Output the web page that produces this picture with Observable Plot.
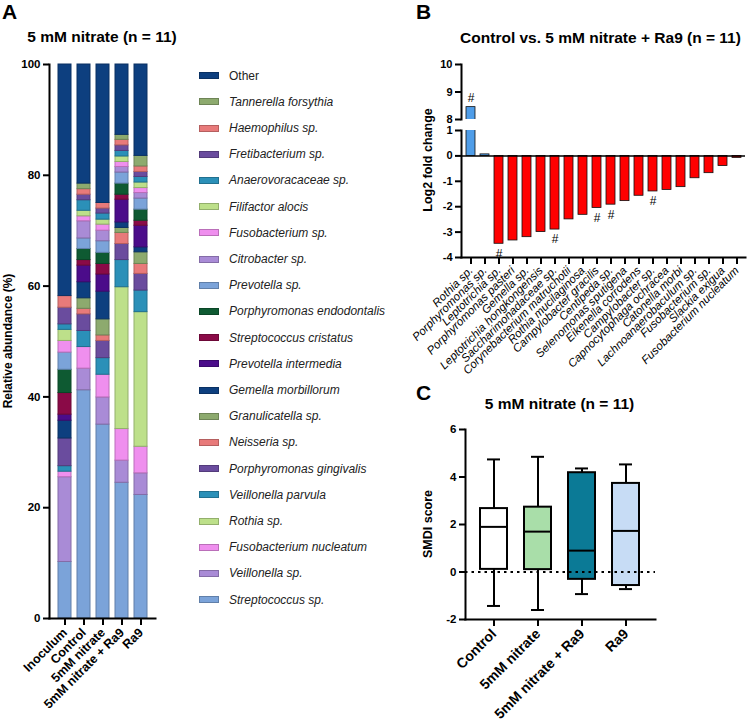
<!DOCTYPE html>
<html><head><meta charset="utf-8">
<script src="https://cdn.jsdelivr.net/npm/d3@7"></script>
<script src="https://cdn.jsdelivr.net/npm/@observablehq/plot@0.6"></script>
<style>
body{margin:0;background:#fff;font-family:"Liberation Sans",Arial,Helvetica,sans-serif;color:#000;}
#root{position:relative;width:749px;height:722px;overflow:hidden;background:#fff;}
#root svg{position:absolute;overflow:visible;background:none;}
.lbl{position:absolute;white-space:nowrap;line-height:1;}
</style></head><body><div id="root"></div>
<script>
// ---------- Panel A data ----------
const groupsA = ["Inoculum","Control","5mM nitrate","5mM nitrate + Ra9","Ra9"];
const taxa = ["Streptococcus sp.","Veillonella sp.","Fusobacterium nucleatum","Rothia sp.","Veillonella parvula","Porphyromonas gingivalis","Neisseria sp.","Granulicatella sp.","Gemella morbillorum","Prevotella intermedia","Streptococcus cristatus","Porphyromonas endodontalis","Prevotella sp.","Citrobacter sp.","Fusobacterium sp.","Filifactor alocis","Anaerovoracaceae sp.","Fretibacterium sp.","Haemophilus sp.","Tannerella forsythia","Other"];
const palette = ["#7ba3d9","#a98bd6","#ef8fee","#bde08a","#2b90b8","#6a4c9e","#e87a7a","#8daa6e","#0d3f7f","#4b0c8a","#8a0a47","#0e5a32"];
const abundInoculum = [10.2,15.3,1.0,0,1.0,5.0,0,0,3.2,1.1,3.9,4.2,3.1,0,2.1,2.0,1.0,3.0,2.1,0,41.8];
const abundControl = [41.2,3.9,3.9,0,2.9,3.0,1.0,1.9,2.9,3.0,1.0,2.0,1.9,3.1,0.9,1.0,1.9,1.0,1.0,1.0,21.5];
const abundNitrate = [35.0,4.9,4.1,0,3.0,3.1,1.0,2.9,5.0,3.1,1.9,2.0,2.1,1.9,1.1,0.9,1.1,0.9,1.0,0,25.0];
const abundNitrateRa9 = [24.5,4.0,5.7,25.6,4.9,2.9,2.0,0.9,1.0,4.1,0.9,2.0,2.0,1.0,0.9,1.0,1.0,1.0,1.0,0.9,12.7];
const abundRa9 = [22.3,3.9,4.8,24.3,3.9,3.0,1.8,2.1,0.9,3.9,0.9,2.0,2.0,1.0,0.9,1.0,1.0,0.9,1.0,1.9,16.5];
const yTicksA = [0,20,40,60,80,100];

// ---------- Panel B data ----------
const taxaB = ["Rothia sp.","Porphyromonas sp.","Leptotrichia sp.","Porphyromonas pasteri","Gemella sp.","Leptotrichia hongkongensis","Saccharimonadaceae sp.","Corynebacterium matruchotii","Rothia mucilaginosa","Campylobacter gracilis","Centipeda sp.","Selenomonas sputigena","Eikenella corrodens","Campylobacter sp.","Capnocytophaga ochracea","Catonella morbi","Lachnoanaerobaculum sp.","Fusobacterium sp.","Slackia exigua","Fusobacterium nucleatum"];
const log2fc = [8.45,0.06,-3.46,-3.33,-3.20,-3.00,-2.90,-2.50,-2.32,-2.05,-1.92,-1.78,-1.57,-1.40,-1.34,-1.23,-0.88,-0.68,-0.40,-0.08];
const significant = [true,false,true,false,false,false,true,false,false,true,true,false,false,true,false,false,false,false,false,false];
const yTicksBTop = [8,9,10];
const yTicksBBottom = [-4,-3,-2,-1,0,1];

// ---------- Panel C data ----------
const groupsC = ["Control","5mM nitrate","5mM nitrate + Ra9","Ra9"];
const boxMin = [-1.43,-1.60,-0.93,-0.72];
const boxQ1 = [0.11,0.10,-0.31,-0.57];
const boxMedian = [1.90,1.70,0.90,1.73];
const boxQ3 = [2.67,2.73,4.18,3.73];
const boxMax = [4.74,4.85,4.36,4.53];
const boxColors = ["#ffffff","#a9dea9","#0b7a96","#c7dcf5"];
const yTicksC = [-2,0,2,4,6];

// ---------- helpers ----------
const FONT = '"Liberation Sans", Arial, Helvetica, sans-serif';
const root = document.getElementById("root");
function put(el, left, top){ el.style.left = left+"px"; el.style.top = top+"px"; root.appendChild(el); return el; }
function text(t, left, top, css){ const d = document.createElement("div"); d.className="lbl"; d.textContent=t; d.style.cssText += css; return put(d,left,top); }
const baseStyle = {background:"none", fontFamily: FONT, color:"black", overflow:"visible"};

const colorOf = {}; const strokeOf = {};
taxa.forEach((t,i)=>{ colorOf[t] = palette[i % palette.length]; strokeOf[t] = d3.color(colorOf[t]).darker(0.7).formatHex(); });

// ---------- Panel A ----------
const seriesA = [abundInoculum, abundControl, abundNitrate, abundNitrateRa9, abundRa9];
const stackData = [];
groupsA.forEach((g,gi)=> taxa.forEach((t,ti)=> stackData.push({group:g, taxon:t, value:seriesA[gi][ti]})));

const plotA = Plot.plot({
  width: 190, height: 722,
  marginLeft: 49, marginRight: 35, marginTop: 64, marginBottom: 104,
  style: baseStyle,
  x: {domain: groupsA, paddingInner: 0.34, paddingOuter: 0.34, axis: null},
  y: {domain: [0,100], axis: null},
  color: {type: "identity"},
  marks: [
    Plot.barY(stackData.filter(d=>d.value>0), {x:"group", y:"value", z:"taxon", fill: d=>colorOf[d.taxon], stroke: d=>strokeOf[d.taxon], strokeWidth: 1}),
    Plot.axisY({ticks: yTicksA, tickSize: 6, tickPadding: 3, strokeWidth: 2, fontWeight: "bold", fontSize: 11.5, label: null}),
    Plot.axisX({tickSize: 7, tickPadding: 5, strokeWidth: 2, tickRotate: -45, fontWeight: "bold", fontSize: 12.5, label: null}),
    Plot.frame({anchor: "left", strokeWidth: 2}),
    Plot.frame({anchor: "bottom", strokeWidth: 2})
  ]
});
put(plotA, 0, 0);

// legend
[...taxa].reverse().forEach((t,i)=>{
  const sw = document.createElement("div");
  sw.style.cssText = `position:absolute;width:18px;height:5px;background:${colorOf[t]};border:1px solid ${strokeOf[t]};`;
  put(sw, 198.5, 72.2 + i*26.2);
  text(t, 229, 69.6 + i*26.2, `font-size:12px;color:#222;${t==="Other"?"":"font-style:italic;"}`);
});

text("A", 2, 0.6, "font-size:21px;font-weight:bold;");
text("5 mM nitrate (n = 11)", 102, 29, "font-size:15.5px;font-weight:bold;transform:translateX(-50%);");
text("Relative abundance (%)", 8, 341, "font-size:12px;font-weight:bold;transform:translate(-50%,-50%) rotate(-90deg);");

// ---------- Panel B ----------
const dataB = taxaB.map((t,i)=>({taxon:t, value:log2fc[i], sig:significant[i]}));
const xB = {domain: taxaB, paddingInner: 0.36, paddingOuter: 0.25, axis: null};
const fillB = d => d.value > 0 ? "#4f9de8" : "#ff0000";

const plotBtop = Plot.plot({
  width: 349, height: 119, marginLeft: 61, marginRight: 4, marginTop: 64, marginBottom: 0,
  style: baseStyle, x: xB, y: {domain:[8,10], axis:null}, color:{type:"identity"},
  marks: [
    Plot.barY(dataB, {x:"taxon", y:"value", fill: fillB, stroke:"#111", strokeWidth: 0.8, clip: true}),
    Plot.text(dataB.filter(d=>d.sig && d.value>=8), {x:"taxon", y:"value", text: ()=>"#", dy:-9, fontSize: 12}),
    Plot.axisY({ticks: yTicksBTop, tickSize: 6, tickPadding: 3, strokeWidth: 2, fontWeight:"bold", fontSize: 11, label:null, tickFormat: d=>String(d)}),
    Plot.frame({anchor:"left", strokeWidth: 2})
  ]
});
put(plotBtop, 400, 0);

const plotBbot = Plot.plot({
  width: 349, height: 377, marginLeft: 61, marginRight: 4, marginTop: 130, marginBottom: 120,
  style: baseStyle, x: xB, y: {domain:[-4,1], axis:null}, color:{type:"identity"},
  marks: [
    Plot.barY(dataB, {x:"taxon", y:"value", fill: fillB, stroke:"#111", strokeWidth: 0.8, clip: true}),
    Plot.ruleY([0], {strokeWidth: 1.5}),
    Plot.text(dataB.filter(d=>d.sig && d.value<0), {x:"taxon", y:"value", text: ()=>"#", dy: 10, fontSize: 12}),
    Plot.axisY({ticks: yTicksBBottom, tickSize: 6, tickPadding: 3, strokeWidth: 2, fontWeight:"bold", fontSize: 11, label:null, tickFormat: d=>String(d)}),
    Plot.axisX({tickSize: 7, tickPadding: 4, strokeWidth: 2, tickRotate: -45, fontStyle:"italic", fontSize: 11.5, label:null}),
    Plot.frame({anchor:"left", strokeWidth: 2}),
    Plot.frame({anchor:"bottom", strokeWidth: 2})
  ]
});
put(plotBbot, 400, 0);

text("B", 416, 0.6, "font-size:21px;font-weight:bold;");
text("Control vs. 5 mM nitrate + Ra9 (n = 11)", 600.5, 29.5, "font-size:15.5px;font-weight:bold;transform:translateX(-50%);");
text("Log2 fold change", 428, 160, "font-size:12.5px;font-weight:bold;transform:translate(-50%,-50%) rotate(-90deg);");

// ---------- Panel C ----------
const statsC = groupsC.map((g,i)=>({group:g, min:boxMin[i], q1:boxQ1[i], median:boxMedian[i], q3:boxQ3[i], max:boxMax[i], color:boxColors[i]}));
const plotC = Plot.plot({
  width: 349, height: 342, marginLeft: 65, marginRight: 94, marginTop: 49, marginBottom: 103,
  style: baseStyle,
  x: {domain: groupsC, paddingInner: 0.386, paddingOuter: 0.336, axis: null},
  y: {domain: [-2,6], axis: null}, color: {type:"identity"},
  marks: [
    Plot.ruleX(statsC, {x:"group", y1:"min", y2:"max", strokeWidth: 2}),
    Plot.tickY(statsC, {x:"group", y:"min", strokeWidth: 2, insetLeft: 7, insetRight: 7}),
    Plot.tickY(statsC, {x:"group", y:"max", strokeWidth: 2, insetLeft: 7, insetRight: 7}),
    Plot.barY(statsC, {x:"group", y1:"q1", y2:"q3", fill:"color", stroke:"black", strokeWidth: 2}),
    Plot.tickY(statsC, {x:"group", y:"median", strokeWidth: 2}),
    Plot.ruleY([0], {strokeWidth: 2, strokeDasharray: "2.5,4"}),
    Plot.axisY({ticks: yTicksC, tickSize: 6, tickPadding: 3, strokeWidth: 2, fontWeight:"bold", fontSize: 11.5, label:null, tickFormat: d=>String(d)}),
    Plot.axisX({tickSize: 7, tickPadding: 5, strokeWidth: 2, tickRotate: -45, fontWeight:"bold", fontSize: 14, label:null}),
    Plot.frame({anchor:"left", strokeWidth: 2}),
    Plot.frame({anchor:"bottom", strokeWidth: 2})
  ]
});
put(plotC, 400, 380);

text("C", 416, 382, "font-size:21px;font-weight:bold;");
text("5 mM nitrate (n = 11)", 559.5, 395.7, "font-size:15.5px;font-weight:bold;transform:translateX(-50%);");
text("SMDI score", 428, 524, "font-size:12.5px;font-weight:bold;transform:translate(-50%,-50%) rotate(-90deg);");
</script></body></html>
